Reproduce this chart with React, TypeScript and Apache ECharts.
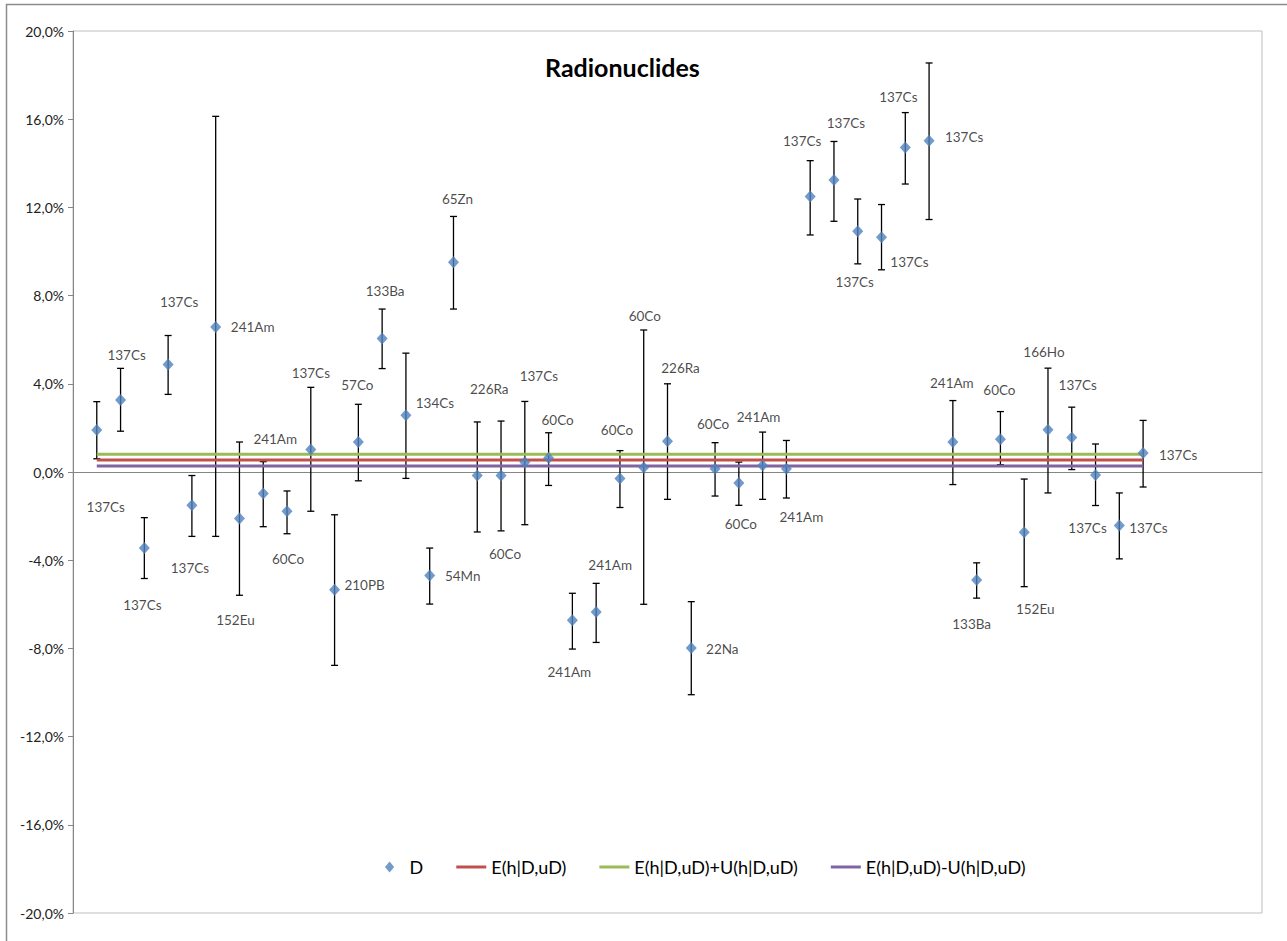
import React, { useEffect, useRef } from "react";
import * as echarts from "echarts";

// ---- data (values in %) ----
const nuclides = [
  "137Cs", "137Cs", "137Cs", "137Cs", "137Cs", "241Am", "152Eu", "241Am", "60Co", "137Cs",
  "210PB", "57Co", "133Ba", "134Cs", "54Mn", "65Zn", "226Ra", "60Co", "137Cs", "60Co",
  "241Am", "241Am", "60Co", "60Co", "226Ra", "22Na", "60Co", "60Co", "241Am", "241Am",
  "137Cs", "137Cs", "137Cs", "137Cs", "137Cs", "137Cs", "241Am", "133Ba", "60Co", "152Eu",
  "166Ho", "137Cs", "137Cs", "137Cs", "137Cs",
];
const dValues = [
  1.9, 3.27, -3.45, 4.88, -1.51, 6.58, -2.11, -0.97, -1.78, 1.02,
  -5.34, 1.36, 6.05, 2.57, -4.69, 9.51, -0.16, -0.16, 0.44, 0.63,
  -6.72, -6.35, -0.3, 0.2, 1.4, -7.98, 0.15, -0.5, 0.3, 0.15,
  12.49, 13.24, 10.92, 10.65, 14.72, 15.02, 1.36, -4.9, 1.49, -2.73,
  1.92, 1.57, -0.14, -2.43, 0.86,
];
const errHigh = [
  3.19, 4.7, -2.07, 6.19, -0.16, 16.13, 1.36, 0.47, -0.86, 3.84,
  -1.94, 3.07, 7.39, 5.39, -3.45, 11.59, 2.27, 2.31, 3.2, 1.78,
  -5.5, -5.05, 0.97, 6.44, 4.0, -5.88, 1.33, 0.45, 1.81, 1.43,
  14.12, 14.99, 12.38, 12.13, 16.3, 18.55, 3.24, -4.12, 2.74, -0.32,
  4.71, 2.94, 1.27, -0.95, 2.34,
];
const errLow = [
  0.6, 1.85, -4.83, 3.52, -2.92, -2.92, -5.59, -2.48, -2.8, -1.78,
  -8.77, -0.4, 4.69, -0.29, -5.99, 7.39, -2.72, -2.67, -2.39, -0.61,
  -8.03, -7.73, -1.61, -6.0, -1.24, -10.1, -1.09, -1.51, -1.24, -1.18,
  10.75, 11.37, 9.44, 9.17, 13.06, 11.45, -0.57, -5.72, 0.33, -5.2,
  -0.95, 0.11, -1.52, -3.94, -0.68,
];
const eValue = 0.54;
const uValue = 0.27;
const yTicks = { min: -20, max: 20, interval: 4 };
const seriesNames = ["D", "E(h|D,uD)", "E(h|D,uD)+U(h|D,uD)", "E(h|D,uD)-U(h|D,uD)"];

// ---- layout: label offsets (px) relative to each point ----
const labelOffsets: [number, number][] = [
  [9, 77], [6, -45], [-2, 57], [11, -62], [-2, 63], [37, 0], [-4, 101], [12, -54], [1, 48], [0, -77],
  [30, -5], [-1, -57], [3, -48], [29, -12], [33, 1], [4, -63], [12, -87], [4, 78], [14, -86], [9, -38],
  [-3, 52], [14, -47], [-3, -49], [1, -152], [13, -73], [31, 1], [-2, -45], [2, 41], [-4, -48], [15, 48],
  [-8, -56], [12, -57], [-3, 51], [28, 25], [-7, -50], [35, -4], [-1, -59], [-5, 44], [-1, -49], [11, 77],
  [-4, -78], [6, -52], [-8, 53], [29, 2], [35, 2],
];

const FONT = "Lato, 'Open Sans', sans-serif";
const LINE_ICON = "path://M0,0 H30 V3 H0 Z";
const DIAMOND_ICON = "path://M5,0 L10,6 L5,12 L0,6 Z";

export default function App() {
  const ref = useRef<HTMLDivElement>(null);
  useEffect(() => {
    if (!ref.current) return;
    const chart = echarts.init(ref.current, undefined, { renderer: "svg" });
    const n = dValues.length;
    const scatterData = dValues.map((v, i) => ({ value: [i + 1, v], name: nuclides[i] }));
    const errData = dValues.map((_, i) => [i + 1, errHigh[i], errLow[i]]);
    const lineData = (val: number) => [[1, val], [n, val]];

    chart.setOption({
      animation: false,
      backgroundColor: "#fff",
      title: {
        text: "Radionuclides",
        left: 540,
        top: 49,
        textStyle: { fontFamily: FONT, fontSize: 25, fontWeight: "bold", color: "#000" },
      },
      legend: {
        data: [
          { name: seriesNames[0], icon: DIAMOND_ICON },
          { name: seriesNames[1], icon: LINE_ICON },
          { name: seriesNames[2], icon: LINE_ICON },
          { name: seriesNames[3], icon: LINE_ICON },
        ],
        left: 380,
        top: 853,
        itemWidth: 30,
        itemHeight: 11,
        itemGap: 33,
        symbolKeepAspect: true,
        textStyle: { fontFamily: FONT, fontSize: 18, color: "#000" },
      },
      grid: { left: 73, right: 25, top: 31, bottom: 28, show: true, borderColor: "#BFBFBF", borderWidth: 1 },
      xAxis: {
        type: "value",
        min: 0,
        max: 50,
        axisLine: { onZero: true, lineStyle: { color: "#868686", width: 1 } },
        axisTick: { show: false },
        axisLabel: { show: false },
        splitLine: { show: false },
      },
      yAxis: {
        type: "value",
        min: yTicks.min,
        max: yTicks.max,
        interval: yTicks.interval,
        axisLine: { show: true, onZero: false, lineStyle: { color: "#868686" } },
        axisTick: { show: true, length: 5, lineStyle: { color: "#868686" } },
        axisLabel: {
          fontFamily: FONT,
          fontSize: 14,
          color: "#222",
          margin: 9,
          formatter: (v: number) => v.toFixed(1).replace(".", ",") + "%",
        },
        splitLine: { show: false },
      },
      graphic: [
        {
          type: "rect",
          shape: { x: 6.5, y: 4.5, width: 1300, height: 960 },
          style: { fill: "none", stroke: "#8C8C8C", lineWidth: 1.5 },
          silent: true,
        },
      ],
      series: [
        {
          type: "custom",
          name: "errors",
          z: 2,
          data: errData,
          renderItem: (params: any, api: any) => {
            const x = api.value(0);
            const hi = api.coord([x, api.value(1)]);
            const lo = api.coord([x, api.value(2)]);
            const c = 3.5;
            const st = { stroke: "#000", lineWidth: 1.3 };
            return {
              type: "group",
              children: [
                { type: "line", shape: { x1: hi[0], y1: hi[1], x2: lo[0], y2: lo[1] }, style: st },
                { type: "line", shape: { x1: hi[0] - c, y1: hi[1], x2: hi[0] + c, y2: hi[1] }, style: st },
                { type: "line", shape: { x1: lo[0] - c, y1: lo[1], x2: lo[0] + c, y2: lo[1] }, style: st },
              ],
            };
          },
        },
        {
          type: "line",
          name: seriesNames[1],
          z: 3,
          symbol: "none",
          data: lineData(eValue),
          lineStyle: { color: "#C0504D", width: 3 },
          itemStyle: { color: "#C0504D" },
        },
        {
          type: "line",
          name: seriesNames[2],
          z: 3,
          symbol: "none",
          data: lineData(eValue + uValue),
          lineStyle: { color: "#9BBB59", width: 3 },
          itemStyle: { color: "#9BBB59" },
        },
        {
          type: "line",
          name: seriesNames[3],
          z: 3,
          symbol: "none",
          data: lineData(eValue - uValue),
          lineStyle: { color: "#8064A2", width: 3 },
          itemStyle: { color: "#8064A2" },
        },
        {
          type: "scatter",
          name: seriesNames[0],
          z: 4,
          symbol: "diamond",
          symbolSize: [11, 12],
          itemStyle: { color: "#4F81BD" },
          data: scatterData,
          label: {
            show: true,
            position: "inside",
            formatter: "{b}",
            fontFamily: FONT,
            fontSize: 13.5,
            color: "#1a1a1a",
          },
          labelLayout: (p: any) => ({
            dx: labelOffsets[p.dataIndex][0],
            dy: labelOffsets[p.dataIndex][1],
            hideOverlap: false,
          }),
        },
      ],
    });
    return () => chart.dispose();
  }, []);
  return (
    <div
      ref={ref}
      style={{ position: "absolute", left: 0, top: 0, width: 1287, height: 941 }}
    />
  );
}
